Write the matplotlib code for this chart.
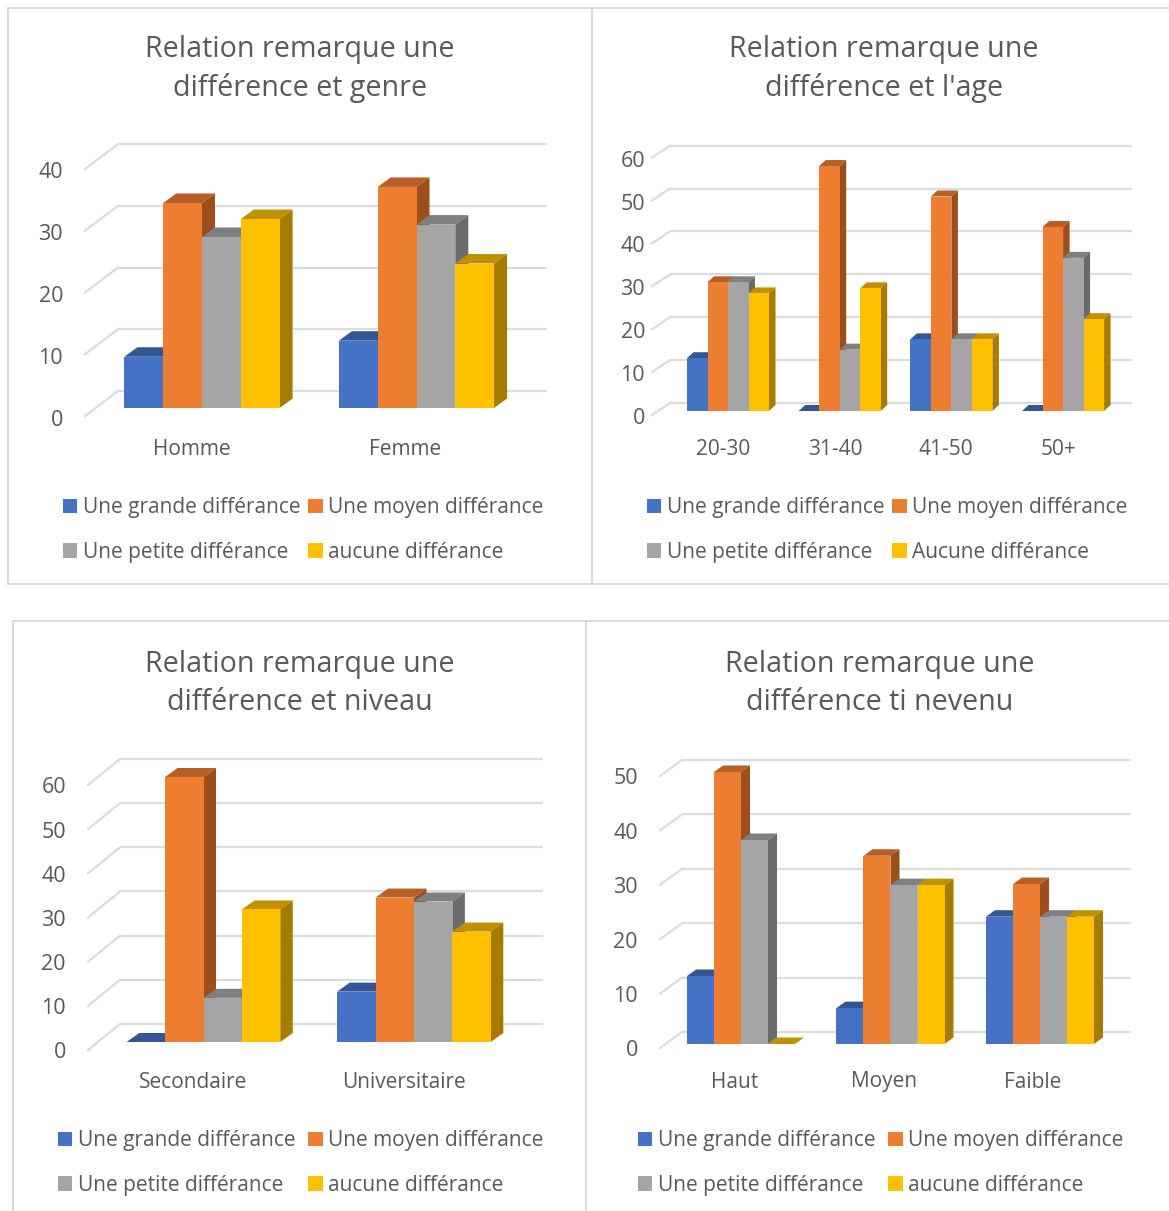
import matplotlib
matplotlib.use('Agg')
import matplotlib.pyplot as plt
from matplotlib.lines import Line2D

W, H = 1169, 1211

colors = ['#4472C4', '#ED7D31', '#A5A5A5', '#FFC000']
top_colors = ['#335593', '#B85F26', '#7F7F7F', '#BF9000']
side_colors = ['#2C4A80', '#9C4E1B', '#6B6B6B', '#A67C00']

legend_labels = ['Une grande différance', 'Une moyen différance', 'Une petite différance', 'aucune différance']
legend_labels_age = ['Une grande différance', 'Une moyen différance', 'Une petite différance', 'Aucune différance']

genre_titles = 'Relation remarque une\ndifférence et genre'
genre_cats = ['Homme', 'Femme']
genre_ticks = [0, 10, 20, 30, 40]
genre_grande = [8.3, 10.9]
genre_moyen = [33.2, 35.8]
genre_petite = [27.7, 29.7]
genre_aucune = [30.6, 23.4]

age_titles = "Relation remarque une\ndifférence et l'age"
age_cats = ['20-30', '31-40', '41-50', '50+']
age_ticks = [0, 10, 20, 30, 40, 50, 60]
age_grande = [12.3, 0, 16.7, 0]
age_moyen = [30, 57.1, 50, 42.9]
age_petite = [30, 14.3, 16.7, 35.7]
age_aucune = [27.4, 28.6, 16.7, 21.4]

niveau_titles = 'Relation remarque une\ndifférence et niveau'
niveau_cats = ['Secondaire', 'Universitaire']
niveau_ticks = [0, 10, 20, 30, 40, 50, 60]
niveau_grande = [0, 11.4]
niveau_moyen = [60, 32.7]
niveau_petite = [10, 31.8]
niveau_aucune = [30, 25]

revenu_titles = 'Relation remarque une\ndifférence ti nevenu'
revenu_cats = ['Haut', 'Moyen', 'Faible']
revenu_ticks = [0, 10, 20, 30, 40, 50]
revenu_grande = [12.5, 6.6, 23.4]
revenu_moyen = [50, 34.6, 29.4]
revenu_petite = [37.5, 29.2, 23.4]
revenu_aucune = [0, 29.2, 23.4]

plt.rcParams['font.family'] = ['Open Sans', 'DejaVu Sans']
text_color = '#595959'
grid_color = '#DCDCDC'


def draw_chart(title, title_x, title_y, cats, ticks, series, labels, box, legend_pos):
    """Une pseudo-3D bar chart; box holds the pixel layout of the plot."""
    l, r, back_x, base, scale = box['l'], box['r'], box['back_x'], box['base'], box['scale']
    front, back = box['front'], box['back']
    c0, pitch, w = box['c0'], box['pitch'], box['w']
    dx, dy = box['depth']
    label_dy = box['label_dy']
    t = base - back - ticks[-1] * scale - 5
    b = base + front + label_dy + 2

    ax = fig.add_axes([l / W, 1 - b / H, (r - l) / W, (b - t) / H])
    ax.patch.set_alpha(0)
    ax.set_xlim((l - c0) / pitch, (r - c0) / pitch)
    ax.set_ylim((base - b) / scale, (base - t) / scale)
    for s in ax.spines.values():
        s.set_visible(False)

    # back wall and the slanted lines that join it to the value labels
    xb = (back_x - c0) / pitch
    xf = (l - c0) / pitch
    xr = (r - c0) / pitch
    for v in ticks:
        yb = v + back / scale
        ax.plot([xb, xr], [yb, yb], color=grid_color, lw=1.6, zorder=1, solid_capstyle='butt')
        ax.plot([xf, xb], [v - front / scale, yb], color=grid_color, lw=1.6, zorder=1, clip_on=False)

    bw = w / pitch
    ddx = dx / pitch
    ddy = dy / scale
    handles = []
    z = 2
    for k, vals in enumerate(series):
        xs = [i + (k - 1.5) * bw for i in range(len(cats))]
        for x, v in zip(xs, vals):
            x0, x1 = x - bw / 2, x + bw / 2
            ax.fill([x0, x1, x1 + ddx, x0 + ddx], [v, v, v + ddy, v + ddy],
                    color=top_colors[k], lw=0, zorder=z, clip_on=False)
            ax.fill([x1, x1 + ddx, x1 + ddx, x1], [0, ddy, v + ddy, v],
                    color=side_colors[k], lw=0, zorder=z, clip_on=False)
        bars = ax.bar(xs, vals, width=bw, color=colors[k], label=labels[k], zorder=z + 1)
        handles.append(bars)
        z += 2

    ax.set_yticks([v - (front + label_dy) / scale for v in ticks])
    ax.set_yticklabels([str(v) for v in ticks])
    ax.set_xticks([(p - c0) / pitch for p in box['label_px']])
    ax.set_xticklabels(cats)
    ax.tick_params(axis='y', length=0, pad=box['ypad'] * 0.72, labelsize=15.5, labelcolor=text_color)
    ax.tick_params(axis='x', length=0, pad=box['xpad'] * 0.72, labelsize=15, labelcolor=text_color)

    # matplotlib fills legend columns first
    order = [0, 2, 1, 3]
    ax.legend([handles[i] for i in order], [labels[i] for i in order], ncol=2,
              loc='upper left', bbox_to_anchor=(legend_pos[0] / W, 1 - legend_pos[1] / H),
              bbox_transform=fig.transFigure, frameon=False, fontsize=15, labelcolor=text_color,
              borderpad=0, borderaxespad=0, handlelength=0.68, handleheight=0.68,
              handletextpad=0.27, columnspacing=box['colsp'], labelspacing=1.14)

    fig.text(title_x / W, 1 - title_y / H, title, ha='center', va='center', fontsize=20.6,
             color=text_color, linespacing=1.37)


fig = plt.figure(figsize=(W / 100, H / 100), dpi=100, facecolor='white')

# panel borders
border_lines = [
    ([8, 1169], [8, 8]), ([8, 1169], [584, 584]), ([8, 8], [8, 584]), ([592, 592], [8, 584]),
    ([13, 1169], [621, 621]), ([13, 13], [621, 1211]), ([586, 586], [621, 1211]),
]
for xs, ys in border_lines:
    fig.add_artist(Line2D([x / W for x in xs], [1 - y / H for y in ys], color='#D9D9D9', lw=1.4))

draw_chart(genre_titles, 300, 69, genre_cats, genre_ticks,
           [genre_grande, genre_moyen, genre_petite, genre_aucune], legend_labels,
           dict(l=85, r=547, back_x=118, base=408, scale=6.175, front=8, back=17, c0=202,
                pitch=214.5, w=38.8, depth=(13, 9.5), label_px=[192, 405], ypad=22, xpad=19.5,
                colsp=0.38, label_dy=1.5),
           (63, 497))
draw_chart(age_titles, 884, 69, age_cats, age_ticks,
           [age_grande, age_moyen, age_petite, age_aucune], legend_labels_age,
           dict(l=652, r=1132, back_x=670, base=411, scale=4.29, front=4, back=8, c0=728,
                pitch=111.7, w=20.5, depth=(6.5, 6), label_px=[723, 835, 946, 1058], ypad=7, xpad=21,
                colsp=0.38, label_dy=1),
           (647, 497))
draw_chart(niveau_titles, 300, 683.5, niveau_cats, niveau_ticks,
           [niveau_grande, niveau_moyen, niveau_petite, niveau_aucune], legend_labels,
           dict(l=88, r=543, back_x=120, base=1042, scale=4.417, front=8, back=18, c0=203.5,
                pitch=210.5, w=38.4, depth=(12.5, 9), label_px=[193, 404], ypad=22, xpad=20,
                colsp=0.62, label_dy=0.5),
           (58, 1130))
draw_chart(revenu_titles, 880, 683.5, revenu_cats, revenu_ticks,
           [revenu_grande, revenu_moyen, revenu_petite, revenu_aucune], legend_labels,
           dict(l=660, r=1131, back_x=682, base=1044, scale=5.44, front=4, back=12, c0=741,
                pitch=149.5, w=27, depth=(9, 6.5), label_px=[735, 884, 1033], ypad=22, xpad=21,
                colsp=0.62, label_dy=0.5),
           (638, 1130))

fig.savefig('out.png', dpi=100)
